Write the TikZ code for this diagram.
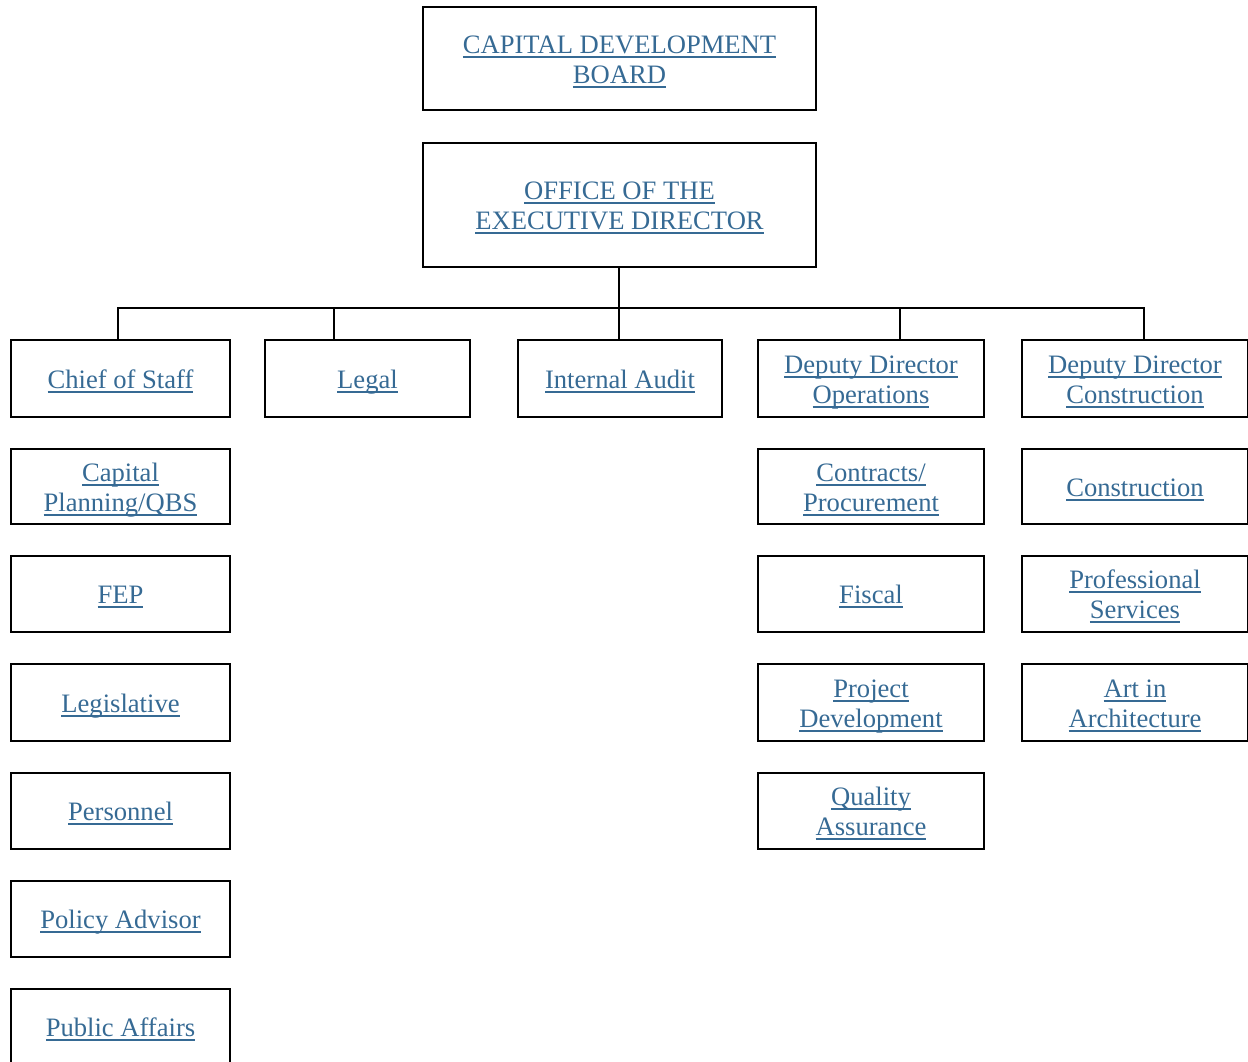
\documentclass[tikz,border=0pt]{standalone}
\usepackage{fontspec}
\setmainfont{Liberation Serif}
\definecolor{linkblue}{RGB}{54,106,148}
\newcommand\ulx[1]{\setbox0\hbox{#1}\ht0=24pt\dp0=0pt\rlap{\rule[-4.3pt]{\wd0}{2pt}}\box0}
\begin{document}
\begin{tikzpicture}[x=1pt,y=-1pt,
  box/.style={draw=black,line width=2pt,inner sep=0pt,outer sep=0pt,align=center,
    text=linkblue,font=\fontsize{26.6}{30}\selectfont},
  link/.style={draw=black,line width=2pt}]
\useasboundingbox (0,0) rectangle (1248,1062);
\clip (0,0) rectangle (1248,1062);
% top boxes
\node[box,minimum width=393,minimum height=103] (board) at (619.5,58.5) {\ulx{CAPITAL DEVELOPMENT}\\\ulx{BOARD}};
\node[box,minimum width=393,minimum height=124] (office) at (619.5,205) {\ulx{OFFICE OF THE}\\\ulx{EXECUTIVE DIRECTOR}};
% row 1
\node[box,minimum width=219,minimum height=77] (chief) at (120.5,378.5) {\ulx{Chief of Staff}};
\node[box,minimum width=205,minimum height=77] (legal) at (367.5,378.5) {\ulx{Legal}};
\node[box,minimum width=204,minimum height=77] (audit) at (620,378.5) {\ulx{Internal Audit}};
\node[box,minimum width=226,minimum height=77] (ddops) at (871,378.5) {\ulx{Deputy Director}\\\ulx{Operations}};
\node[box,minimum width=226,minimum height=77] (ddcon) at (1135,378.5) {\ulx{Deputy Director}\\\ulx{Construction}};
% left column
\node[box,minimum width=219,minimum height=75] (cap) at (120.5,486.5) {\ulx{Capital}\\\ulx{Planning/QBS}};
\node[box,minimum width=219,minimum height=76] (fep) at (120.5,594) {\ulx{FEP}};
\node[box,minimum width=219,minimum height=77] (legis) at (120.5,702.5) {\ulx{Legislative}};
\node[box,minimum width=219,minimum height=76] (pers) at (120.5,811) {\ulx{Personnel}};
\node[box,minimum width=219,minimum height=76] (policy) at (120.5,919) {\ulx{Policy Advisor}};
\node[box,minimum width=219,minimum height=76] (public) at (120.5,1027) {\ulx{Public Affairs}};
% operations column
\node[box,minimum width=226,minimum height=75] (contr) at (871,486.5) {\ulx{Contracts/}\\\ulx{Procurement}};
\node[box,minimum width=226,minimum height=76] (fiscal) at (871,594) {\ulx{Fiscal}};
\node[box,minimum width=226,minimum height=77] (projdev) at (871,702.5) {\ulx{Project}\\\ulx{Development}};
\node[box,minimum width=226,minimum height=76] (qa) at (871,811) {\ulx{Quality}\\\ulx{Assurance}};
% construction column
\node[box,minimum width=226,minimum height=75] (constr) at (1135,486.5) {\ulx{Construction}};
\node[box,minimum width=226,minimum height=76] (prof) at (1135,594) {\ulx{Professional}\\\ulx{Services}};
\node[box,minimum width=226,minimum height=77] (art) at (1135,702.5) {\ulx{Art in}\\\ulx{Architecture}};
% connectors
\coordinate (busc) at (619,308);
\coordinate (bus1) at (118,308);
\coordinate (bus2) at (334,308);
\coordinate (bus4) at (900,308);
\coordinate (bus5) at (1144,308);
\draw[link] (office.south -| busc) -- (busc);
\draw[link,line cap=rect] (bus1) -- (bus5);
\draw[link] (bus1) -- (bus1 |- chief.north);
\draw[link] (bus2) -- (bus2 |- legal.north);
\draw[link] (busc) -- (busc |- audit.north);
\draw[link] (bus4) -- (bus4 |- ddops.north);
\draw[link] (bus5) -- (bus5 |- ddcon.north);
\end{tikzpicture}
\end{document}
